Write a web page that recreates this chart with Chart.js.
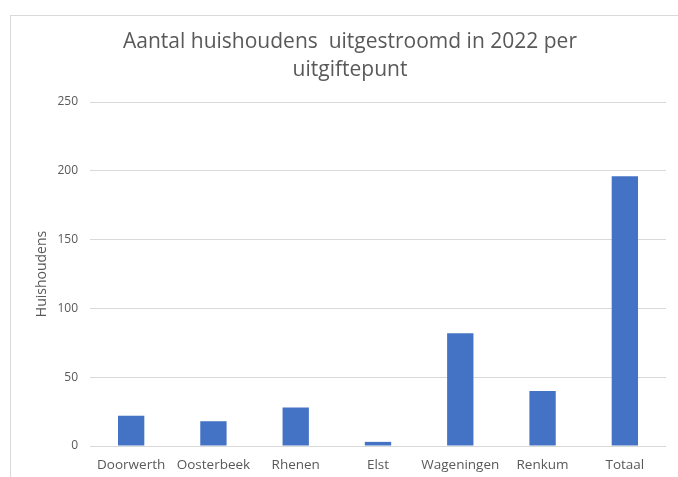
<!DOCTYPE html>
<html>
<head>
<meta charset="utf-8">
<script src="https://cdn.jsdelivr.net/npm/chart.js@4"></script>
<style>
  body { margin: 0; background: #fff; }
  #wrap { position: relative; width: 678px; height: 477px; overflow: hidden; }
  #frame { position: absolute; left: 10px; top: 15px; width: 720px; height: 520px; border: 1px solid #d9d9d9; }
  canvas { position: absolute; left: 0; top: 0; }
</style>
</head>
<body>
<div id="wrap">
  <div id="frame"></div>
  <canvas id="chart" width="678" height="477"></canvas>
</div>
<script>
const categories = ['Doorwerth', 'Oosterbeek', 'Rhenen', 'Elst', 'Wageningen', 'Renkum', 'Totaal']
const households = [22, 18, 28, 3, 82, 40, 196]
const yTicks = [0, 50, 100, 150, 200, 250]

const grey = '#595959'
const font = '"Open Sans", Lato, sans-serif'

let ctx = document.getElementById('chart')

const chart = new Chart(ctx, {
  type: 'bar',
  data: {
    labels: categories,
    datasets: [{
      label: 'Huishoudens',
      data: households,
      backgroundColor: '#4472C4',
      categoryPercentage: 1,
      barPercentage: 0.32
    }]
  },
  options: {
    responsive: false,
    animation: false,
    layout: { padding: { top: 14, right: 12, left: 34, bottom: 0 } },
    plugins: {
      legend: { display: false },
      tooltip: { enabled: false },
      title: {
        display: true,
        text: ['Aantal huishoudens  uitgestroomd in 2022 per', 'uitgiftepunt'],
        color: grey,
        font: { family: font, size: 21, weight: 'normal', lineHeight: 28 / 21 },
        padding: { top: 14, bottom: 18 }
      }
    },
    scales: {
      x: {
        afterFit: (axis) => { axis.height = 31 },
        grid: { display: false, drawTicks: false },
        border: { display: false },
        ticks: { color: grey, font: { family: font, size: 13.5 }, padding: 11, maxRotation: 0 }
      },
      y: {
        min: 0,
        max: 250,
        afterBuildTicks: (axis) => { axis.ticks = yTicks.map(v => ({ value: v })) },
        afterFit: (axis) => { axis.width = 56 },
        grid: { color: '#d9d9d9', drawTicks: false },
        border: { display: false },
        ticks: { color: grey, font: { family: font, size: 12 }, padding: 12 },
        title: {
          display: true,
          text: 'Huishoudens',
          color: grey,
          font: { family: font, size: 14 },
          padding: { top: 0, bottom: 0 }
        }
      }
    }
  }
})
</script>
</body>
</html>
